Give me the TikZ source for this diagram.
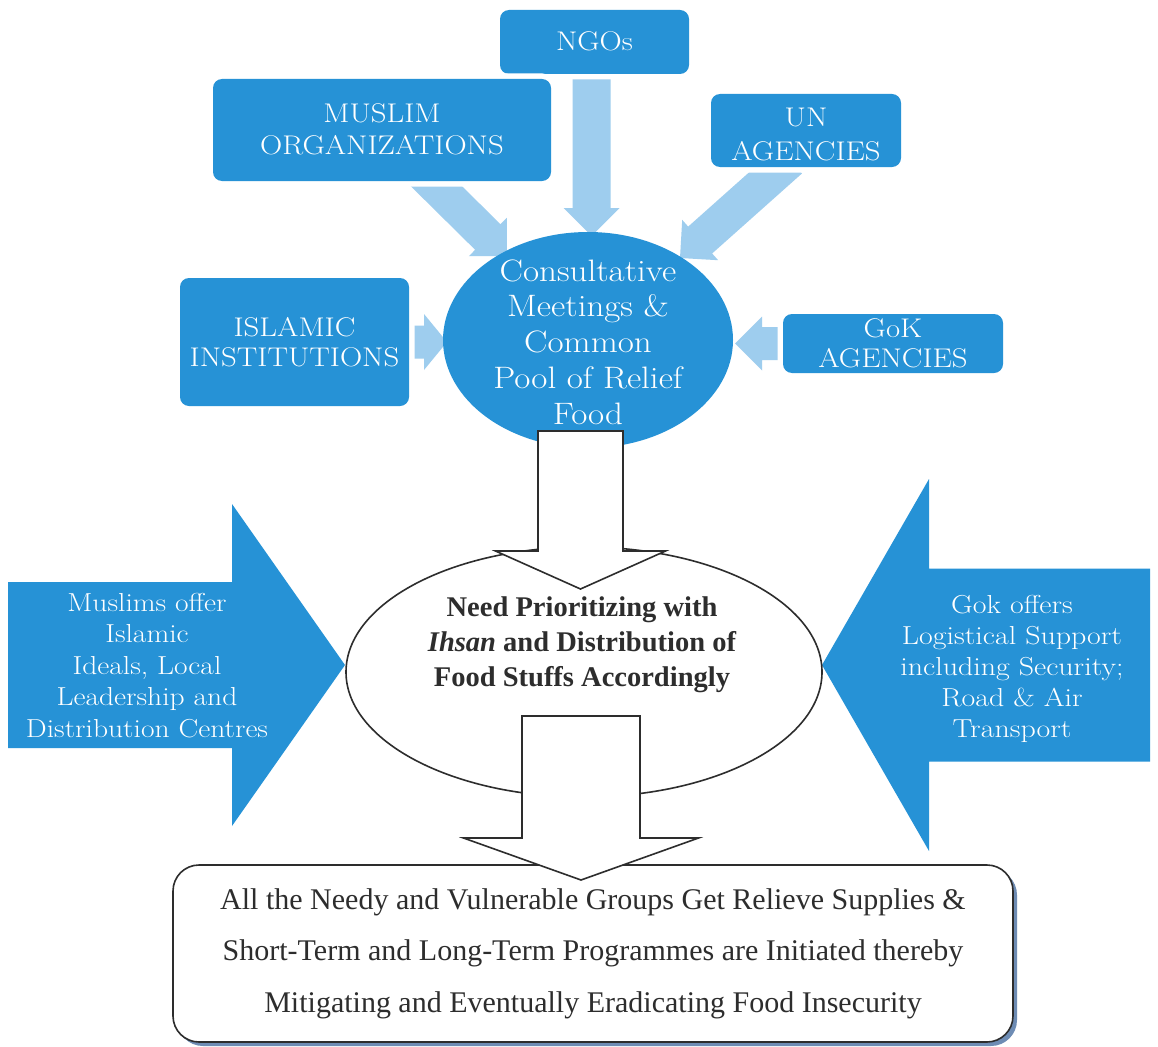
\documentclass[tikz,border=0pt]{standalone}
\usepackage{graphicx}
\usepackage{fontspec}
\newfontfamily\tnr{Liberation Serif}
\usetikzlibrary{calc,shapes.geometric,shadows}

\definecolor{boxblue}{RGB}{38,146,214}
\definecolor{paleblue}{RGB}{158,205,238}
\definecolor{inkgray}{RGB}{45,45,45}
\definecolor{shadowc}{RGB}{110,140,180}

% Block arrow: #1 style, #2 start, #3 tip, #4 shaft half-width,
% #5 head half-width, #6 head length
\newcommand{\fatarrow}[6]{%
  \coordinate (fa-base) at ($(#3)!#6!(#2)$);
  \path[#1] ($(#2)!#4!90:(#3)$) -- ($(fa-base)!#4!90:(#3)$)
    -- ($(fa-base)!#5!90:(#3)$) -- (#3)
    -- ($(fa-base)!#5!-90:(#3)$) -- ($(fa-base)!#4!-90:(#3)$)
    -- ($(#2)!#4!-90:(#3)$) -- cycle;}

% wide, light serif lettering used on the blue shapes:
% #1 font size, #2 line distance, #3 horizontal stretch, #4 lines
\newcommand{\widelines}[4]{{\fontsize{#1}{#2}\selectfont
  \scalebox{#3}[1]{\begin{tabular}{@{}c@{}}#4\end{tabular}}}}

\begin{document}
\begin{tikzpicture}[x=1pt,y=-1pt,
  bluebox/.style={rectangle, rounded corners=9pt, fill=boxblue,
    preaction={draw=white, line width=11pt},
    text=white, align=center, inner sep=0pt},
  paletip/.style={fill=paleblue},
  bigtip/.style={fill=boxblue},
  whitetip/.style={fill=white, draw=inkgray, line width=1.6pt},
  whitetxt/.style={text=white, align=center, inner sep=0pt},
  outcome/.style={rectangle, rounded corners=26pt, draw=inkgray,
    line width=1.6pt, fill=white, minimum width=840pt, minimum height=177pt,
    drop shadow={shadow xshift=4pt, shadow yshift=-4pt, fill=shadowc, opacity=1},
    align=center, text=inkgray, inner sep=0pt,
    font=\tnr\fontsize{30}{51.5}\selectfont}]

\useasboundingbox (0,0) rectangle (1158,1046);
\fill[white] (0,0) rectangle (1158,1046);

% feeder arrows into the consultative pool
\coordinate (ngoS) at (591.5,60);   \coordinate (ngoT) at (591.5,236);
\coordinate (musS) at (420,170);    \coordinate (musT) at (507,256);
\coordinate (unS)  at (790,160);    \coordinate (unT)  at (680,258);
\coordinate (islS) at (395,342);    \coordinate (islT) at (447,342);
\coordinate (gokS) at (795,343.5);  \coordinate (gokT) at (735,343.5);
\fatarrow{paletip}{ngoS}{ngoT}{19pt}{28pt}{28pt}
\fatarrow{paletip}{musS}{musT}{18pt}{27pt}{27pt}
\fatarrow{paletip}{unS}{unT}{18pt}{27pt}{27pt}
\fatarrow{paletip}{islS}{islT}{16.5pt}{28pt}{23pt}
\fatarrow{paletip}{gokS}{gokT}{16.5pt}{27pt}{27pt}

% stakeholder boxes
\node[bluebox, minimum width=189pt, minimum height=64pt] (ngo) at (594.5,42) {};
\node[whitetxt] (ngotxt) at (ngo.center) [yshift=-2pt]
  {\widelines{27}{31.5}{1.14}{NGOs}};
\node[bluebox, minimum width=338pt, minimum height=102pt] (muslim) at (382,130) {};
\node[whitetxt] (muslimtxt) at (382,132.5)
  {\widelines{27}{32}{1.14}{MUSLIM\\ORGANIZATIONS}};
\node[bluebox, minimum width=190pt, minimum height=73pt] (un) at (806,130.5) {};
\node[whitetxt] (untxt) at (806,137)
  {\widelines{27}{34}{1.14}{UN\\AGENCIES}};
\node[bluebox, minimum width=229pt, minimum height=128pt] (islamic) at (294.5,342) {};
\node[whitetxt] (islamictxt) at (294.5,345)
  {\widelines{27}{30}{1.14}{ISLAMIC\\INSTITUTIONS}};
\node[bluebox, minimum width=220pt, minimum height=59pt] (gok) at (893,343.5) {};
\node[whitetxt] (goktxt) at (893,346.5)
  {\widelines{27}{30}{1.14}{GoK\\AGENCIES}};

% consultative pool
\node[ellipse, fill=boxblue, minimum width=290pt, minimum height=216pt, inner sep=0pt] (pool) at (588,340) {};
\node[whitetxt] (pooltxt) at (588,345.5)
  {\widelines{31}{35.8}{1.13}{Consultative\\Meetings \&\\Common\\Pool of Relief\\Food}};

% side contributions
\coordinate (lS) at (8,665);    \coordinate (lT) at (345,665);
\coordinate (rS) at (1150,665); \coordinate (rT) at (822,665);
\fatarrow{bigtip}{lS}{lT}{83pt}{161pt}{113pt}
\fatarrow{bigtip}{rS}{rT}{96.5pt}{186pt}{107pt}
\node[whitetxt] (muslimoffer) at (147,668)
  {\widelines{26}{31.5}{1.135}{Muslims offer\\Islamic\\Ideals, Local\\Leadership and\\Distribution Centres}};
\node[whitetxt] (gokoffer) at (1012,669.5)
  {\widelines{26}{31}{1.15}{Gok offers\\Logistical Support\\including Security;\\Road \& Air\\Transport}};

% prioritizing stage
\node[ellipse, draw=inkgray, line width=1.6pt, fill=white, minimum width=476pt,
  minimum height=250pt, inner sep=0pt] (prio) at (584,672) {};
\coordinate (a1S) at (580.5,431); \coordinate (a1T) at (580.5,589);
\fatarrow{whitetip}{a1S}{a1T}{42.5pt}{85pt}{38pt}
\node[align=center, text=inkgray, inner sep=0pt,
  font=\tnr\bfseries\fontsize{28.5}{35}\selectfont] (priotxt) at (582,645)
  {Need Prioritizing with\\\textit{Ihsan} and Distribution of\\Food Stuffs Accordingly};

% outcome
\node[outcome] (result) at (593,953.5)
  {All the Needy and Vulnerable Groups Get Relieve Supplies \&\\
   Short-Term and Long-Term Programmes are Initiated thereby\\
   Mitigating and Eventually Eradicating Food Insecurity};
\coordinate (a2S) at (581,716); \coordinate (a2T) at (581,880);
\fatarrow{whitetip}{a2S}{a2T}{59pt}{117.5pt}{42pt}

\end{tikzpicture}
\end{document}
